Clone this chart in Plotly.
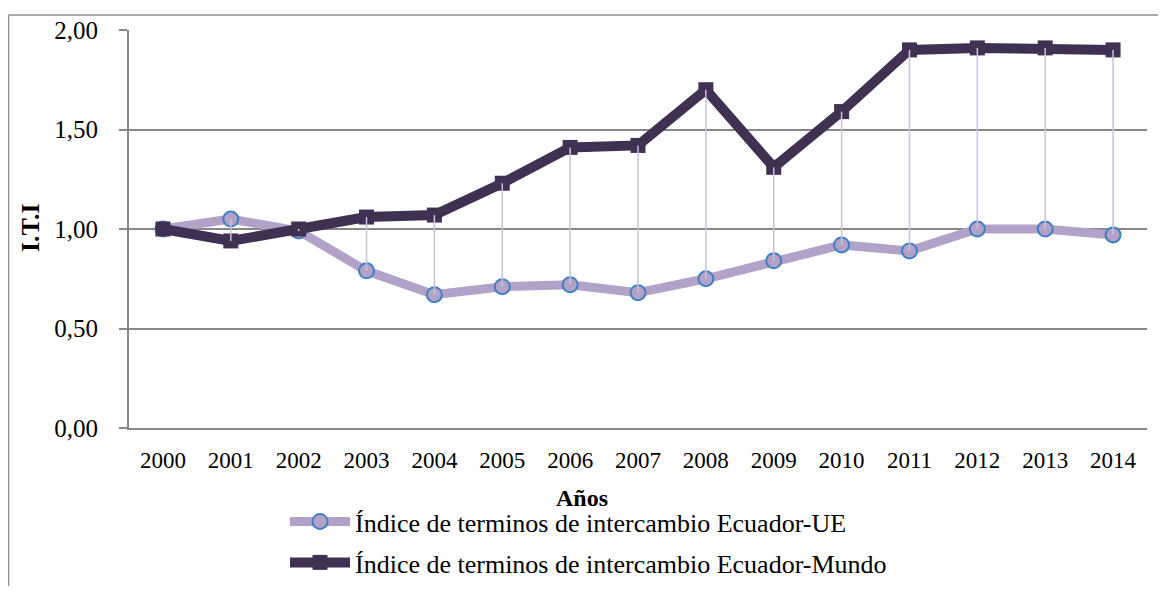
import plotly.graph_objects as go

years = ["2000", "2001", "2002", "2003", "2004", "2005", "2006", "2007",
         "2008", "2009", "2010", "2011", "2012", "2013", "2014"]
ue = [1.00, 1.05, 0.99, 0.79, 0.67, 0.71, 0.72, 0.68, 0.75, 0.84, 0.92, 0.89, 1.00, 1.00, 0.97]
mundo = [1.00, 0.94, 1.00, 1.06, 1.07, 1.23, 1.41, 1.42, 1.70, 1.31, 1.59, 1.90, 1.91, 1.91, 1.90]
name_ue = "Índice de terminos de intercambio Ecuador-UE"
name_mundo = "Índice de terminos de intercambio Ecuador-Mundo"
y_ticks = [0, 0.5, 1, 1.5, 2]

FONT = "Liberation Serif, Times New Roman, serif"

# page offset of the figure (browser body margin)
OFF = 8
W, H = 1150, 578
# target plot area in page pixels
PL, PR, PT, PB = 129, 1147, 30, 428
ML = PL - OFF
MT = PT - OFF
MR = W - (PR - OFF)
MB = H - (PB - OFF)
pw = PR - PL
ph = PB - PT


def px2x(px):
    return (px - PL) / pw


def px2y(py):
    return (PB - py) / ph


fig = go.Figure()

fig.add_trace(go.Scatter(
    x=years, y=ue, name=name_ue, mode="lines+markers",
    line=dict(color="#B3A2C7", width=9),
    marker=dict(symbol="circle", size=15, color="#B3A2C7",
                line=dict(color="#3F7FC4", width=2)),
    legend="legend",
))
fig.add_trace(go.Scatter(
    x=years, y=mundo, name=name_mundo, mode="lines+markers",
    line=dict(color="#403152", width=10),
    marker=dict(symbol="square", size=15, color="#403152"),
    legend="legend2",
))

# high-low lines
hx, hy = [], []
for yr, a, b in zip(years, ue, mundo):
    hx += [yr, yr, None]
    hy += [a, b, None]
fig.add_trace(go.Scatter(
    x=hx, y=hy, mode="lines", showlegend=False, hoverinfo="skip",
    line=dict(color="#CBC1DD", width=1.5),
))

fig.update_layout(
    width=W, height=H,
    margin=dict(l=ML, r=MR, t=MT, b=MB, autoexpand=False),
    paper_bgcolor="white", plot_bgcolor="white",
    separators=",.",
    font=dict(family=FONT, size=25, color="black"),
    xaxis=dict(
        type="category", range=[-0.5, len(years) - 0.5],
        showgrid=False, showline=True, linecolor="#878787",
        linewidth=2, ticks="", tickfont=dict(size=23),
        ticklabelstandoff=10,
    ),
    yaxis=dict(
        range=[0, 2], tickvals=y_ticks, tickformat=".2f",
        showgrid=True, gridcolor="#878787", gridwidth=2,
        showline=True, linecolor="#878787", linewidth=2,
        ticks="outside", ticklen=8, tickcolor="#878787", tickwidth=2,
        zeroline=False, tickfont=dict(size=25),
        ticklabelstandoff=16,
    ),
    legend=dict(x=px2x(285), y=px2y(498), xanchor="left", yanchor="top",
                bgcolor="rgba(0,0,0,0)", font=dict(size=26), itemwidth=60),
    legend2=dict(x=px2x(285), y=px2y(539), xanchor="left", yanchor="top",
                 bgcolor="rgba(0,0,0,0)", font=dict(size=26), itemwidth=60),
    annotations=[
        dict(text="<b>Años</b>", xref="paper", yref="paper",
             x=px2x(582), y=px2y(498), xanchor="center", yanchor="middle",
             showarrow=False, font=dict(size=24)),
        dict(text="<b>I.T.I</b>", xref="paper", yref="paper",
             x=px2x(30), y=px2y(228), xanchor="center", yanchor="middle",
             textangle=-90, showarrow=False, font=dict(size=26)),
    ],
    shapes=[
        dict(type="line", xref="paper", yref="paper",
             x0=px2x(8.5), x1=px2x(OFF + W), y0=px2y(15), y1=px2y(15),
             line=dict(color="#8C8C8C", width=1.5)),
        dict(type="line", xref="paper", yref="paper",
             x0=px2x(8.5), x1=px2x(8.5), y0=px2y(15), y1=px2y(OFF + H),
             line=dict(color="#8C8C8C", width=1.5)),
    ],
    showlegend=True,
)

fig.write_html("out.html")
